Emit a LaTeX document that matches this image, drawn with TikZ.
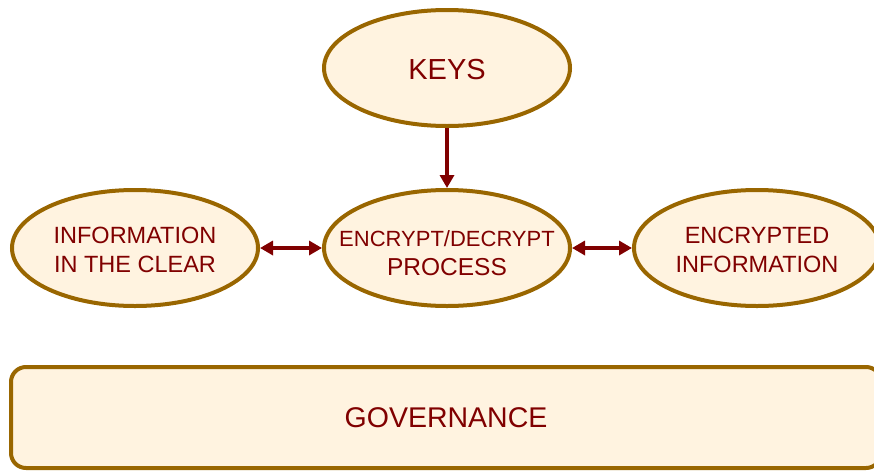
\documentclass[tikz,border=0pt]{standalone}
\usepackage{fontspec}
\setmainfont{Liberation Sans}
\usetikzlibrary{shapes.geometric,arrows.meta}
\definecolor{edgec}{RGB}{153,102,0}
\definecolor{fillc}{RGB}{255,243,224}
\definecolor{txtc}{RGB}{128,0,0}
\tikzset{
  oval/.style={ellipse,draw=edgec,fill=fillc,line width=4pt,minimum width=246pt,minimum height=116pt,inner sep=0pt},
  ovaltext/.style={text=txtc,align=center,inner sep=0pt},
  govbox/.style={draw=edgec,fill=fillc,line width=4pt,rounded corners=15pt,text=txtc,minimum width=870pt,minimum height=101pt,inner sep=0pt},
  tip/.tip={Triangle[length=13pt,width=14pt]},
  conn/.style={draw=txtc,line width=4.5pt,-tip},
  dconn/.style={draw=txtc,line width=4.5pt,tip-tip}
}
\begin{document}
\begin{tikzpicture}[x=1pt,y=-1pt]
\useasboundingbox (0,0) rectangle (874,471);
\clip (0,0) rectangle (874,471);
\node[oval,label={[ovaltext,yshift=-1.5pt,font=\fontsize{29}{32}\selectfont]center:KEYS}] (keys) at (447,68) {};
\node[oval,label={[ovaltext,yshift=-5pt,font=\fontsize{24}{29}\selectfont]center:{\fontsize{22}{29}\selectfont ENCRYPT/DECRYPT\\\fontsize{24.5}{29}\selectfont PROCESS}}] (proc) at (447,248) {};
\node[oval,label={[ovaltext,yshift=-2pt,font=\fontsize{23.5}{29}\selectfont]center:{INFORMATION\\IN THE CLEAR}}] (clear) at (135,248) {};
\node[oval,label={[ovaltext,yshift=-2pt,font=\fontsize{23.5}{29}\selectfont]center:{ENCRYPTED\\INFORMATION}}] (enc) at (757,248) {};
\node[govbox,font=\fontsize{28.5}{32}\selectfont] (gov) at (446,417.5) {GOVERNANCE};
\draw[conn] (keys.south) -- (proc.north);
\draw[dconn] (clear.east) -- (proc.west);
\draw[dconn] (proc.east) -- (enc.west);
\end{tikzpicture}
\end{document}
